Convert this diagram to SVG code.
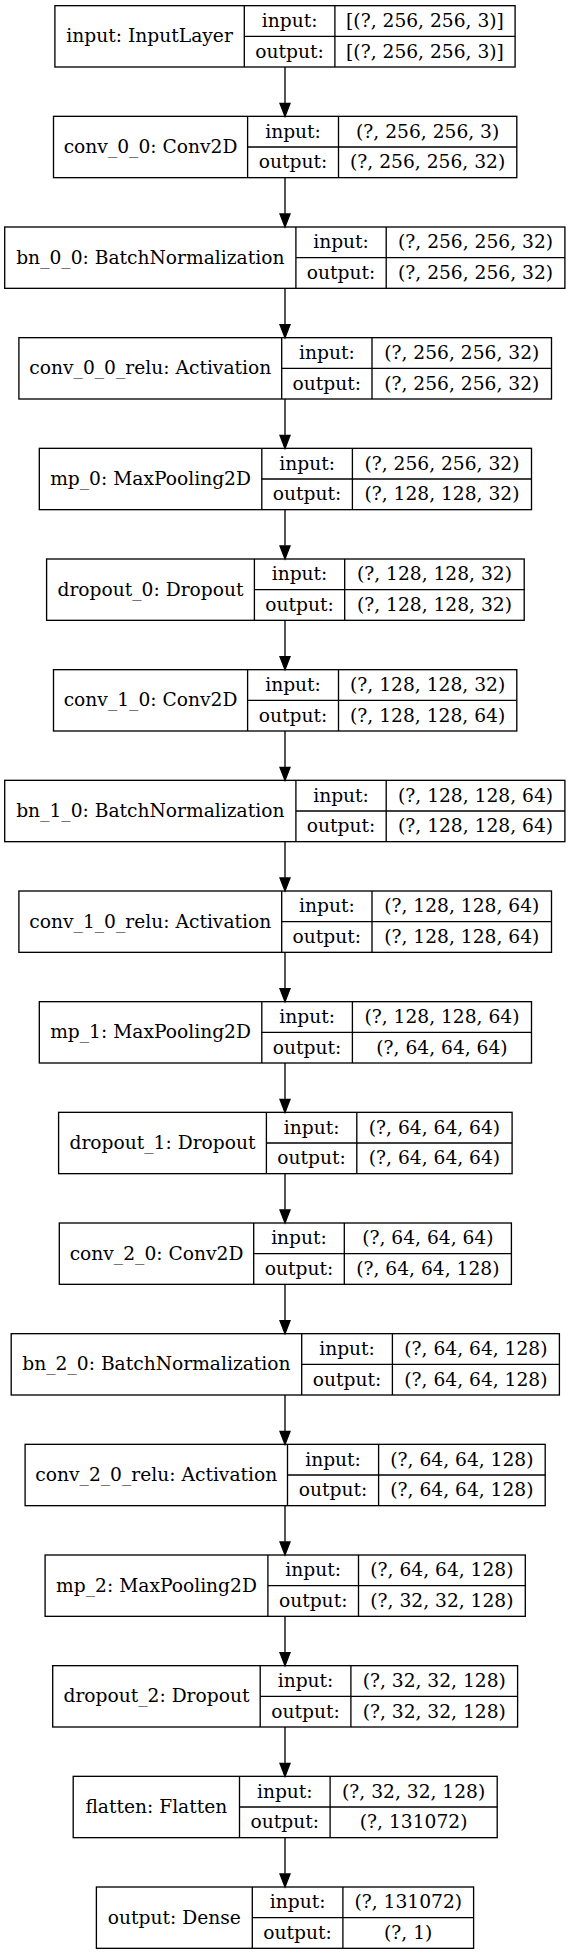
<svg xmlns="http://www.w3.org/2000/svg" width="571" height="1955" viewBox="0 0 571 1955">
<style>
.b{fill:#fff;stroke:#000;stroke-width:1.33}
.d{stroke:#000;stroke-width:1.33}
text{font-family:"DejaVu Serif","Liberation Serif",serif;font-size:18.67px;text-anchor:middle;fill:#000}
.e{stroke:#000;stroke-width:1.33;fill:none}
.h{fill:#000;stroke:#000;stroke-width:1.33}
</style>
<rect width="571" height="1955" fill="#fff"/>
<g id="n0" transform="translate(0,5.67)"><rect class="b" x="54.9" y="0" width="460.2" height="61.33"/><line class="d" x1="244.3" y1="0" x2="244.3" y2="61.33"/><line class="d" x1="334.9" y1="0" x2="334.9" y2="61.33"/><line class="d" x1="244.3" y1="30.67" x2="515.1" y2="30.67"/><text x="149.6" y="36.6">input: InputLayer</text><text x="289.6" y="21.2">input:</text><text x="289.6" y="51.9">output:</text><text x="425" y="21.2">[(?, 256, 256, 3)]</text><text x="425" y="51.9">[(?, 256, 256, 3)]</text></g>
<g id="n1" transform="translate(0,116.33)"><rect class="b" x="53.5" y="0" width="463.3" height="61.33"/><line class="d" x1="247.6" y1="0" x2="247.6" y2="61.33"/><line class="d" x1="338.5" y1="0" x2="338.5" y2="61.33"/><line class="d" x1="247.6" y1="30.67" x2="516.8" y2="30.67"/><text x="150.55" y="36.6">conv_0_0: Conv2D</text><text x="293.05" y="21.2">input:</text><text x="293.05" y="51.9">output:</text><text x="427.65" y="21.2">(?, 256, 256, 3)</text><text x="427.65" y="51.9">(?, 256, 256, 32)</text></g>
<g id="n2" transform="translate(0,227)"><rect class="b" x="4.7" y="0" width="560.2" height="61.33"/><line class="d" x1="295.9" y1="0" x2="295.9" y2="61.33"/><line class="d" x1="386.2" y1="0" x2="386.2" y2="61.33"/><line class="d" x1="295.9" y1="30.67" x2="564.9" y2="30.67"/><text x="150.3" y="36.6">bn_0_0: BatchNormalization</text><text x="341.05" y="21.2">input:</text><text x="341.05" y="51.9">output:</text><text x="475.55" y="21.2">(?, 256, 256, 32)</text><text x="475.55" y="51.9">(?, 256, 256, 32)</text></g>
<g id="n3" transform="translate(0,337.67)"><rect class="b" x="18.9" y="0" width="532.6" height="61.33"/><line class="d" x1="281.7" y1="0" x2="281.7" y2="61.33"/><line class="d" x1="372" y1="0" x2="372" y2="61.33"/><line class="d" x1="281.7" y1="30.67" x2="551.5" y2="30.67"/><text x="150.3" y="36.6">conv_0_0_relu: Activation</text><text x="326.85" y="21.2">input:</text><text x="326.85" y="51.9">output:</text><text x="461.75" y="21.2">(?, 256, 256, 32)</text><text x="461.75" y="51.9">(?, 256, 256, 32)</text></g>
<g id="n4" transform="translate(0,448.33)"><rect class="b" x="39.3" y="0" width="492.2" height="61.33"/><line class="d" x1="261.8" y1="0" x2="261.8" y2="61.33"/><line class="d" x1="352.4" y1="0" x2="352.4" y2="61.33"/><line class="d" x1="261.8" y1="30.67" x2="531.5" y2="30.67"/><text x="150.55" y="36.6">mp_0: MaxPooling2D</text><text x="307.1" y="21.2">input:</text><text x="307.1" y="51.9">output:</text><text x="441.95" y="21.2">(?, 256, 256, 32)</text><text x="441.95" y="51.9">(?, 128, 128, 32)</text></g>
<g id="n5" transform="translate(0,559)"><rect class="b" x="46.6" y="0" width="477.6" height="61.33"/><line class="d" x1="254.4" y1="0" x2="254.4" y2="61.33"/><line class="d" x1="344.7" y1="0" x2="344.7" y2="61.33"/><line class="d" x1="254.4" y1="30.67" x2="524.2" y2="30.67"/><text x="150.5" y="36.6">dropout_0: Dropout</text><text x="299.55" y="21.2">input:</text><text x="299.55" y="51.9">output:</text><text x="434.45" y="21.2">(?, 128, 128, 32)</text><text x="434.45" y="51.9">(?, 128, 128, 32)</text></g>
<g id="n6" transform="translate(0,669.67)"><rect class="b" x="53.5" y="0" width="463.3" height="61.33"/><line class="d" x1="247.6" y1="0" x2="247.6" y2="61.33"/><line class="d" x1="338.5" y1="0" x2="338.5" y2="61.33"/><line class="d" x1="247.6" y1="30.67" x2="516.8" y2="30.67"/><text x="150.55" y="36.6">conv_1_0: Conv2D</text><text x="293.05" y="21.2">input:</text><text x="293.05" y="51.9">output:</text><text x="427.65" y="21.2">(?, 128, 128, 32)</text><text x="427.65" y="51.9">(?, 128, 128, 64)</text></g>
<g id="n7" transform="translate(0,780.33)"><rect class="b" x="4.7" y="0" width="560.2" height="61.33"/><line class="d" x1="295.9" y1="0" x2="295.9" y2="61.33"/><line class="d" x1="386.2" y1="0" x2="386.2" y2="61.33"/><line class="d" x1="295.9" y1="30.67" x2="564.9" y2="30.67"/><text x="150.3" y="36.6">bn_1_0: BatchNormalization</text><text x="341.05" y="21.2">input:</text><text x="341.05" y="51.9">output:</text><text x="475.55" y="21.2">(?, 128, 128, 64)</text><text x="475.55" y="51.9">(?, 128, 128, 64)</text></g>
<g id="n8" transform="translate(0,891)"><rect class="b" x="18.9" y="0" width="532.6" height="61.33"/><line class="d" x1="281.7" y1="0" x2="281.7" y2="61.33"/><line class="d" x1="372" y1="0" x2="372" y2="61.33"/><line class="d" x1="281.7" y1="30.67" x2="551.5" y2="30.67"/><text x="150.3" y="36.6">conv_1_0_relu: Activation</text><text x="326.85" y="21.2">input:</text><text x="326.85" y="51.9">output:</text><text x="461.75" y="21.2">(?, 128, 128, 64)</text><text x="461.75" y="51.9">(?, 128, 128, 64)</text></g>
<g id="n9" transform="translate(0,1001.67)"><rect class="b" x="39.3" y="0" width="492.2" height="61.33"/><line class="d" x1="261.8" y1="0" x2="261.8" y2="61.33"/><line class="d" x1="352.4" y1="0" x2="352.4" y2="61.33"/><line class="d" x1="261.8" y1="30.67" x2="531.5" y2="30.67"/><text x="150.55" y="36.6">mp_1: MaxPooling2D</text><text x="307.1" y="21.2">input:</text><text x="307.1" y="51.9">output:</text><text x="441.95" y="21.2">(?, 128, 128, 64)</text><text x="441.95" y="51.9">(?, 64, 64, 64)</text></g>
<g id="n10" transform="translate(0,1112.33)"><rect class="b" x="58.6" y="0" width="453.5" height="61.33"/><line class="d" x1="266.4" y1="0" x2="266.4" y2="61.33"/><line class="d" x1="356.8" y1="0" x2="356.8" y2="61.33"/><line class="d" x1="266.4" y1="30.67" x2="512.1" y2="30.67"/><text x="162.5" y="36.6">dropout_1: Dropout</text><text x="311.6" y="21.2">input:</text><text x="311.6" y="51.9">output:</text><text x="434.45" y="21.2">(?, 64, 64, 64)</text><text x="434.45" y="51.9">(?, 64, 64, 64)</text></g>
<g id="n11" transform="translate(0,1223)"><rect class="b" x="59.3" y="0" width="452.1" height="61.33"/><line class="d" x1="253.7" y1="0" x2="253.7" y2="61.33"/><line class="d" x1="344.3" y1="0" x2="344.3" y2="61.33"/><line class="d" x1="253.7" y1="30.67" x2="511.4" y2="30.67"/><text x="156.5" y="36.6">conv_2_0: Conv2D</text><text x="299" y="21.2">input:</text><text x="299" y="51.9">output:</text><text x="427.85" y="21.2">(?, 64, 64, 64)</text><text x="427.85" y="51.9">(?, 64, 64, 128)</text></g>
<g id="n12" transform="translate(0,1333.67)"><rect class="b" x="11.2" y="0" width="548.2" height="61.33"/><line class="d" x1="301.7" y1="0" x2="301.7" y2="61.33"/><line class="d" x1="392.4" y1="0" x2="392.4" y2="61.33"/><line class="d" x1="301.7" y1="30.67" x2="559.4" y2="30.67"/><text x="156.45" y="36.6">bn_2_0: BatchNormalization</text><text x="347.05" y="21.2">input:</text><text x="347.05" y="51.9">output:</text><text x="475.9" y="21.2">(?, 64, 64, 128)</text><text x="475.9" y="51.9">(?, 64, 64, 128)</text></g>
<g id="n13" transform="translate(0,1444.33)"><rect class="b" x="25.1" y="0" width="520.1" height="61.33"/><line class="d" x1="287.5" y1="0" x2="287.5" y2="61.33"/><line class="d" x1="378.6" y1="0" x2="378.6" y2="61.33"/><line class="d" x1="287.5" y1="30.67" x2="545.2" y2="30.67"/><text x="156.3" y="36.6">conv_2_0_relu: Activation</text><text x="333.05" y="21.2">input:</text><text x="333.05" y="51.9">output:</text><text x="461.9" y="21.2">(?, 64, 64, 128)</text><text x="461.9" y="51.9">(?, 64, 64, 128)</text></g>
<g id="n14" transform="translate(0,1555)"><rect class="b" x="45.1" y="0" width="480.2" height="61.33"/><line class="d" x1="267.9" y1="0" x2="267.9" y2="61.33"/><line class="d" x1="358.5" y1="0" x2="358.5" y2="61.33"/><line class="d" x1="267.9" y1="30.67" x2="525.3" y2="30.67"/><text x="156.5" y="36.6">mp_2: MaxPooling2D</text><text x="313.2" y="21.2">input:</text><text x="313.2" y="51.9">output:</text><text x="441.9" y="21.2">(?, 64, 64, 128)</text><text x="441.9" y="51.9">(?, 32, 32, 128)</text></g>
<g id="n15" transform="translate(0,1665.67)"><rect class="b" x="52.7" y="0" width="464.9" height="61.33"/><line class="d" x1="260.2" y1="0" x2="260.2" y2="61.33"/><line class="d" x1="350.9" y1="0" x2="350.9" y2="61.33"/><line class="d" x1="260.2" y1="30.67" x2="517.6" y2="30.67"/><text x="156.45" y="36.6">dropout_2: Dropout</text><text x="305.55" y="21.2">input:</text><text x="305.55" y="51.9">output:</text><text x="434.25" y="21.2">(?, 32, 32, 128)</text><text x="434.25" y="51.9">(?, 32, 32, 128)</text></g>
<g id="n16" transform="translate(0,1776.33)"><rect class="b" x="73.2" y="0" width="424" height="61.33"/><line class="d" x1="239.5" y1="0" x2="239.5" y2="61.33"/><line class="d" x1="330.1" y1="0" x2="330.1" y2="61.33"/><line class="d" x1="239.5" y1="30.67" x2="497.2" y2="30.67"/><text x="156.35" y="36.6">flatten: Flatten</text><text x="284.8" y="21.2">input:</text><text x="284.8" y="51.9">output:</text><text x="413.65" y="21.2">(?, 32, 32, 128)</text><text x="413.65" y="51.9">(?, 131072)</text></g>
<g id="n17" transform="translate(0,1887)"><rect class="b" x="96.4" y="0" width="377.2" height="61.33"/><line class="d" x1="252.3" y1="0" x2="252.3" y2="61.33"/><line class="d" x1="342.9" y1="0" x2="342.9" y2="61.33"/><line class="d" x1="252.3" y1="30.67" x2="473.6" y2="30.67"/><text x="174.35" y="36.6">output: Dense</text><text x="297.6" y="21.2">input:</text><text x="297.6" y="51.9">output:</text><text x="408.25" y="21.2">(?, 131072)</text><text x="408.25" y="51.9">(?, 1)</text></g>
<g id="edges">
<path class="e" d="M285,67v36M285,177.7v36M285,288.3v36M285,399v36M285,509.7v36M285,620.3v36M285,731v36M285,841.7v36M285,952.3v36M285,1063v36M285,1173.7v36M285,1284.3v36M285,1395v36M285,1505.7v36M285,1616.3v36M285,1727v36M285,1837.7v36"/>
<path class="h" d="M280,103.3h10l-5,13zM280,214h10l-5,13zM280,324.7h10l-5,13zM280,435.3h10l-5,13zM280,546h10l-5,13zM280,656.7h10l-5,13zM280,767.3h10l-5,13zM280,878h10l-5,13zM280,988.7h10l-5,13zM280,1099.3h10l-5,13zM280,1210h10l-5,13zM280,1320.7h10l-5,13zM280,1431.3h10l-5,13zM280,1542h10l-5,13zM280,1652.7h10l-5,13zM280,1763.3h10l-5,13zM280,1874h10l-5,13z"/>
</g>
</svg>
